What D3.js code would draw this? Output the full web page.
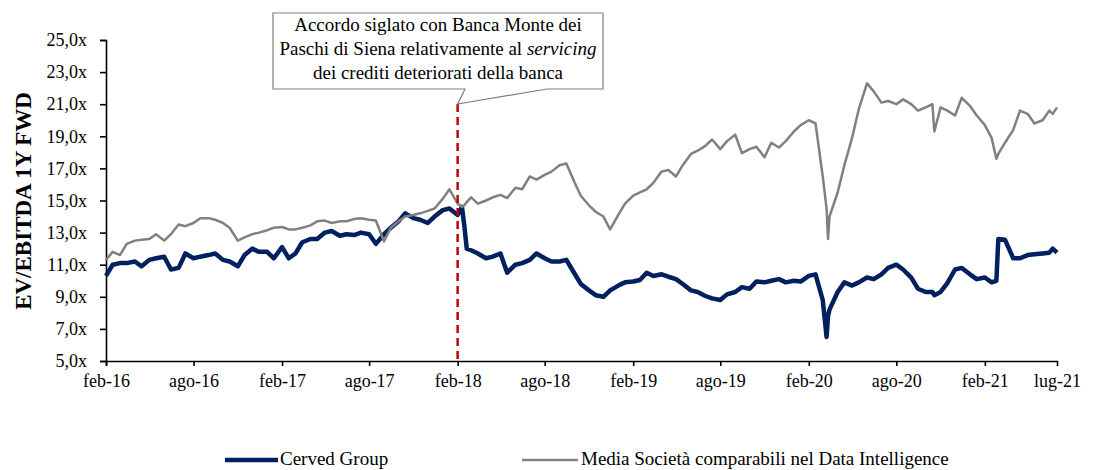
<!DOCTYPE html>
<html>
<head>
<meta charset="utf-8">
<script src="https://cdn.jsdelivr.net/npm/d3@7"></script>
<style>
  body { margin: 0; background: #fff; }
  svg { display: block; font-family: "Liberation Serif", "DejaVu Serif", serif; }
</style>
</head>
<body>
<svg width="1099" height="470"></svg>
<script>
(function (d3) {
  "use strict";

  // semi-monthly observations (plus a few extra days around the big moves)
  var dates = [
    "2016-02-01", "2016-02-15", "2016-03-01", "2016-03-15", "2016-04-01", "2016-04-15",
    "2016-05-01", "2016-05-15", "2016-06-01", "2016-06-15", "2016-07-01", "2016-07-15",
    "2016-08-01", "2016-08-15", "2016-09-01", "2016-09-15", "2016-10-01", "2016-10-15",
    "2016-11-01", "2016-11-15", "2016-12-01", "2016-12-15",
    "2017-01-01", "2017-01-15", "2017-02-01", "2017-02-15", "2017-03-01", "2017-03-15",
    "2017-04-01", "2017-04-15", "2017-05-01", "2017-05-15", "2017-06-01", "2017-06-15",
    "2017-07-01", "2017-07-15", "2017-08-01", "2017-08-15", "2017-09-01", "2017-09-15",
    "2017-10-01", "2017-10-15", "2017-11-01", "2017-11-15", "2017-12-01", "2017-12-15",
    "2018-01-01", "2018-01-15", "2018-02-01", "2018-02-10", "2018-02-15", "2018-02-20",
    "2018-03-01", "2018-03-15", "2018-04-01", "2018-04-15", "2018-05-01", "2018-05-15",
    "2018-06-01", "2018-06-15", "2018-07-01", "2018-07-15", "2018-08-01", "2018-08-15",
    "2018-09-01", "2018-09-15", "2018-10-01", "2018-10-15", "2018-11-01", "2018-11-15",
    "2018-12-01", "2018-12-15",
    "2019-01-01", "2019-01-15", "2019-02-01", "2019-02-15", "2019-03-01", "2019-03-15",
    "2019-04-01", "2019-04-15", "2019-05-01", "2019-05-15", "2019-06-01", "2019-06-15",
    "2019-07-01", "2019-07-15", "2019-08-01", "2019-08-15", "2019-09-01", "2019-09-15",
    "2019-10-01", "2019-10-15", "2019-11-01", "2019-11-15", "2019-12-01", "2019-12-15",
    "2020-01-01", "2020-01-15", "2020-02-01", "2020-02-15", "2020-03-01", "2020-03-09",
    "2020-03-12", "2020-03-15", "2020-04-01", "2020-04-15", "2020-05-01", "2020-05-15",
    "2020-06-01", "2020-06-15", "2020-07-01", "2020-07-15", "2020-08-01", "2020-08-15",
    "2020-09-01", "2020-09-15", "2020-10-01", "2020-10-15", "2020-10-19", "2020-11-01",
    "2020-11-15", "2020-12-01", "2020-12-15",
    "2021-01-01", "2021-01-15", "2021-02-01", "2021-02-15", "2021-02-25", "2021-03-01",
    "2021-03-15", "2021-04-01", "2021-04-15", "2021-05-01", "2021-05-15", "2021-06-01",
    "2021-06-15", "2021-06-22", "2021-07-01"
  ];

  var cerved = [
    10.3, 11.0, 11.1, 11.1, 11.2, 10.9,
    11.3, 11.4, 11.5, 10.7, 10.8, 11.7,
    11.4, 11.5, 11.6, 11.7, 11.3, 11.2,
    10.9, 11.6, 12.0, 11.8,
    11.8, 11.4, 12.1, 11.4, 11.7, 12.4,
    12.6, 12.6, 13.0, 13.1, 12.8, 12.9,
    12.85, 13.0, 12.9, 12.3, 12.9, 13.3,
    13.7, 14.2, 13.9, 13.8, 13.6, 14.0,
    14.4, 14.5, 14.1, 14.6, 13.4, 12.0,
    11.9, 11.7, 11.4, 11.5, 11.7, 10.5,
    11.0, 11.1, 11.3, 11.7, 11.4, 11.2,
    11.2, 11.3, 10.5, 9.8, 9.4, 9.1,
    9.0, 9.4,
    9.7, 9.9, 9.95, 10.05, 10.5, 10.3,
    10.4, 10.25, 10.1, 9.8, 9.4, 9.3,
    9.05, 8.9, 8.8, 9.15, 9.3, 9.6,
    9.5, 9.95, 9.9, 10.0, 10.1, 9.9,
    10.0, 9.95, 10.3, 10.4, 8.8, 6.5,
    7.8, 8.2, 9.3, 9.9, 9.7, 9.9,
    10.2, 10.1, 10.4, 10.8, 11.0, 10.7,
    10.2, 9.5, 9.3, 9.3, 9.1, 9.3,
    9.85, 10.7, 10.8,
    10.4, 10.1, 10.2, 9.9, 10.0, 12.6,
    12.55, 11.4, 11.4, 11.6, 11.65, 11.7,
    11.75, 12.0, 11.75
  ];

  var comparabili = [
    11.3, 11.8, 11.6, 12.3, 12.5, 12.55,
    12.6, 12.9, 12.5, 12.9, 13.5, 13.4,
    13.6, 13.9, 13.9, 13.8, 13.6, 13.3,
    12.5, 12.7, 12.9, 13.0,
    13.15, 13.3, 13.35, 13.2, 13.2, 13.3,
    13.45, 13.7, 13.75, 13.6, 13.7, 13.7,
    13.85, 13.9, 13.8, 13.75, 12.45, 13.3,
    13.7, 14.0, 14.1, 14.2, 14.35, 14.5,
    15.1, 15.7, 14.8, 14.6, 14.7, 14.9,
    15.2, 14.8, 15.0, 15.2, 15.35, 15.15,
    15.8, 15.7, 16.5, 16.3, 16.6, 16.8,
    17.2, 17.3, 16.2, 15.3, 14.7, 14.3,
    14.0, 13.2,
    14.1, 14.8, 15.3, 15.5, 15.7, 16.1,
    16.8, 16.9, 16.5, 17.2, 17.9, 18.1,
    18.4, 18.8, 18.2, 18.7, 19.1, 17.95,
    18.2, 18.35, 17.7, 18.6, 18.3, 18.7,
    19.3, 19.7, 20.0, 19.8, 16.5, 14.5,
    12.6, 14.0, 15.5, 17.2, 18.9, 20.7,
    22.3, 21.8, 21.1, 21.2, 21.0, 21.3,
    21.0, 20.6, 20.8, 21.0, 19.3, 20.8,
    20.6, 20.3, 21.4,
    20.9, 20.3, 19.7, 18.9, 17.6, 17.9,
    18.6, 19.4, 20.6, 20.4, 19.8, 20.0,
    20.6, 20.4, 20.8
  ];

  var yTicks = [5, 7, 9, 11, 13, 15, 17, 19, 21, 23, 25];
  var xTickDates = [
    "2016-02-01", "2016-08-01", "2017-02-01", "2017-08-01", "2018-02-01", "2018-08-01",
    "2019-02-01", "2019-08-01", "2020-02-01", "2020-08-01", "2021-02-01", "2021-07-01"
  ];
  var xTickLabels = [
    "feb-16", "ago-16", "feb-17", "ago-17", "feb-18", "ago-18",
    "feb-19", "ago-19", "feb-20", "ago-20", "feb-21", "lug-21"
  ];
  var seriesNames = ["Cerved Group", "Media Società comparabili nel Data Intelligence"];
  var eventDate = "2018-02-01";

  var parse = d3.timeParse("%Y-%m-%d");
  var svg = d3.select("svg");

  var x = d3.scaleTime()
    .domain([parse("2016-02-01"), parse("2021-07-01")])
    .range([106, 1057]);
  var y = d3.scaleLinear().domain([5, 25]).range([361, 40]);

  // axes
  var yAxis = d3.axisLeft(y)
    .tickValues(yTicks)
    .tickSize(6)
    .tickPadding(13)
    .tickFormat(function (d) { return d3.format(".1f")(d).replace(".", ",") + "x"; });

  var gy = svg.append("g").attr("transform", "translate(106,0)").call(yAxis);

  var xAxis = d3.axisBottom(x)
    .tickValues(xTickDates.map(parse))
    .tickSize(5)
    .tickPadding(8)
    .tickFormat(function (d, i) { return xTickLabels[i]; });

  var gx = svg.append("g").attr("transform", "translate(0,361)").call(xAxis);

  [gx, gy].forEach(function (g) {
    g.select(".domain").attr("stroke", "#000").attr("stroke-width", 1.6);
    g.selectAll(".tick line").attr("stroke", "#000").attr("stroke-width", 1.6);
    g.selectAll(".tick text")
      .attr("fill", "#000")
      .style("font-family", "'Liberation Serif', serif")
      .style("font-size", "18px");
  });
  gx.selectAll(".tick").filter(function (d, i) { return i === xTickLabels.length - 1; })
    .select("line").remove();

  svg.append("text")
    .attr("transform", "translate(31,201) rotate(-90)")
    .attr("text-anchor", "middle")
    .attr("font-weight", "bold")
    .attr("font-size", "23px")
    .text("EV/EBITDA 1Y FWD");

  // lines
  var line = function (values) {
    return d3.line()
      .x(function (d, i) { return x(parse(dates[i])); })
      .y(function (d) { return y(d); })(values);
  };

  svg.append("path")
    .attr("d", line(cerved))
    .attr("fill", "none")
    .attr("stroke", "#002060")
    .attr("stroke-width", 4.5)
    .attr("stroke-linejoin", "round");

  svg.append("path")
    .attr("d", line(comparabili))
    .attr("fill", "none")
    .attr("stroke", "#808080")
    .attr("stroke-width", 2.5)
    .attr("stroke-linejoin", "round");

  // event marker
  var ex = x(parse(eventDate));
  svg.append("line")
    .attr("x1", ex).attr("x2", ex)
    .attr("y1", 104).attr("y2", 361)
    .attr("stroke", "#c00000")
    .attr("stroke-width", 2.5)
    .attr("stroke-dasharray", "8,5");

  // callout
  var bx0 = 273, bx1 = 603, by0 = 13, by1 = 89;
  svg.append("path")
    .attr("d", "M" + bx0 + "," + by0 + "H" + bx1 + "V" + by1 + "H547L" + ex + ",104L465," + by1 + "H" + bx0 + "Z")
    .attr("fill", "#fff")
    .attr("stroke", "#808080")
    .attr("stroke-width", 1.2);

  var note = svg.append("g")
    .attr("text-anchor", "middle")
    .attr("font-size", "19px")
    .attr("fill", "#000");
  note.append("text").attr("x", 438).attr("y", 31).text("Accordo siglato con Banca Monte dei");
  var l2 = note.append("text").attr("x", 438).attr("y", 55);
  l2.append("tspan").text("Paschi di Siena relativamente al ");
  l2.append("tspan").attr("font-style", "italic").text("servicing");
  note.append("text").attr("x", 438).attr("y", 79).text("dei crediti deteriorati della banca");

  // legend
  var legend = svg.append("g").attr("font-size", "19px");
  legend.append("line").attr("x1", 225).attr("x2", 278).attr("y1", 460).attr("y2", 460)
    .attr("stroke", "#002060").attr("stroke-width", 4.5);
  legend.append("text").attr("x", 280).attr("y", 465).text(seriesNames[0]);
  legend.append("line").attr("x1", 522).attr("x2", 578).attr("y1", 460).attr("y2", 460)
    .attr("stroke", "#808080").attr("stroke-width", 2.5);
  legend.append("text").attr("x", 581).attr("y", 465).text(seriesNames[1]);
})(d3);
</script>
</body>
</html>
